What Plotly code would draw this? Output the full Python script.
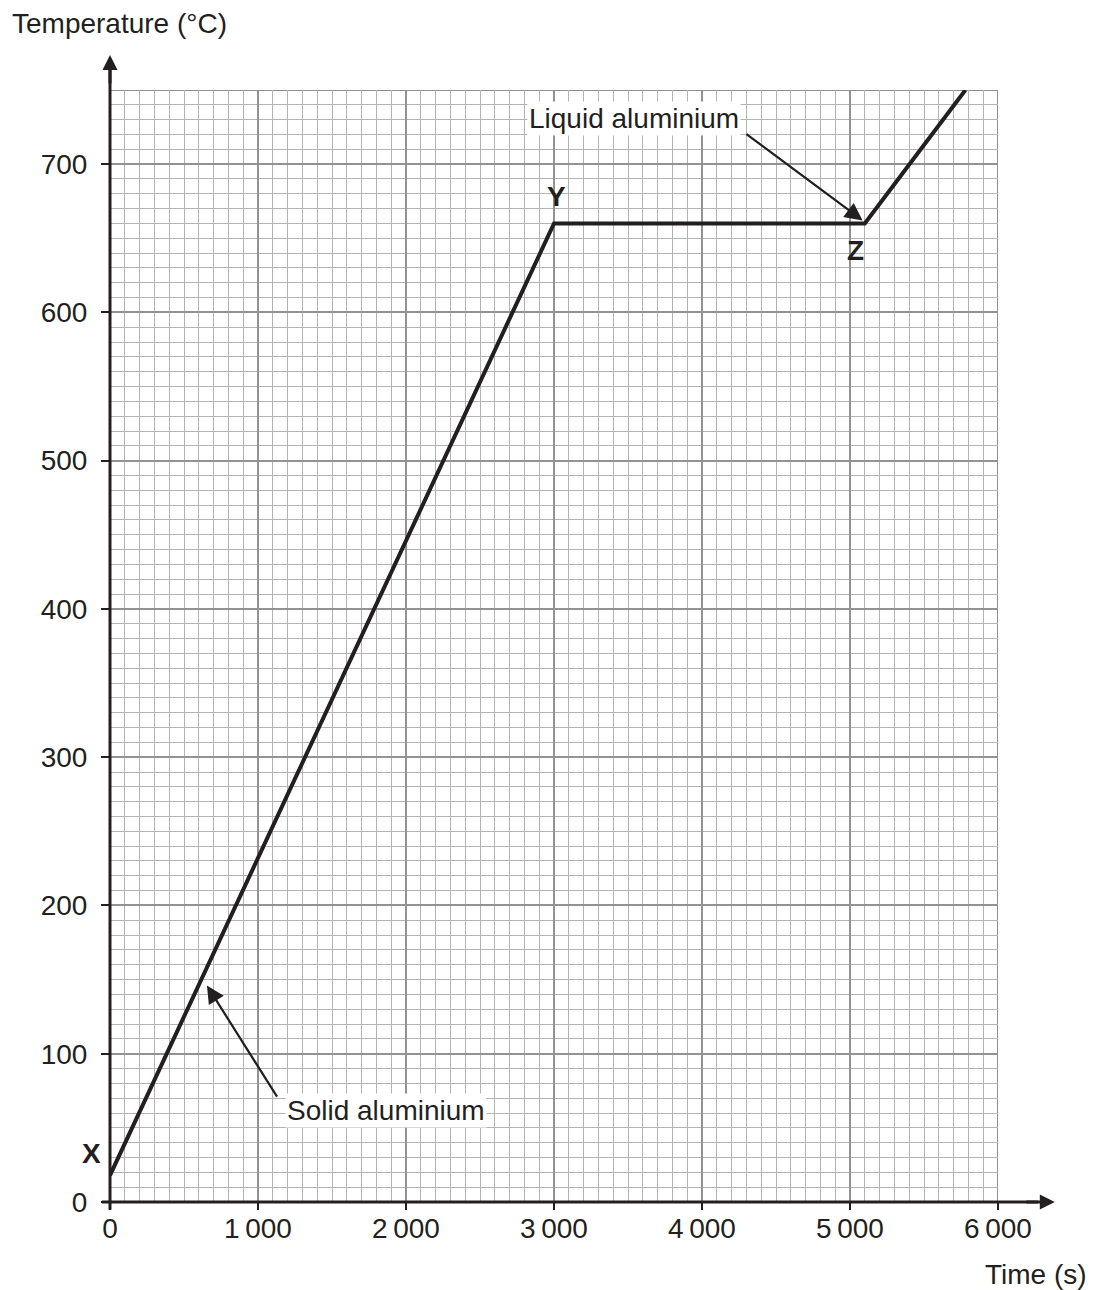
import plotly.graph_objects as go

# Data
time_s = [0, 3000, 5100, 5780]
temp_c = [18, 660, 660, 750]

x_tickvals = [0, 1000, 2000, 3000, 4000, 5000, 6000]
x_ticktext = ["0", "1\u2009000", "2\u2009000", "3\u2009000", "4\u2009000", "5\u2009000", "6\u2009000"]
y_tickvals = [0, 100, 200, 300, 400, 500, 600, 700]
y_ticktext = ["0", "100", "200", "300", "400", "500", "600", "700"]

INK = "#231f20"
FONT = "Liberation Sans, Arial, sans-serif"
FS = 28

fig = go.Figure()
fig.add_trace(go.Scatter(x=time_s, y=temp_c, mode="lines",
                         line=dict(color=INK, width=4), hoverinfo="skip",
                         showlegend=False, cliponaxis=False))

fig.update_layout(
    width=1096, height=1290,
    margin=dict(l=102, r=106, t=82, b=96),
    paper_bgcolor="white", plot_bgcolor="white",
    font=dict(family=FONT, size=FS, color=INK),
    showlegend=False,
    xaxis=dict(range=[0, 6000], tickvals=x_tickvals, ticktext=x_ticktext,
               showgrid=True, gridcolor="#929292", gridwidth=2,
               minor=dict(dtick=100, tick0=0, showgrid=True, gridcolor="#b4b4b4", gridwidth=1, ticks=""),
               zeroline=False, showline=False,
               ticks="outside", ticklen=7, tickwidth=2, tickcolor=INK,
               ticklabelstandoff=-6,
               tickfont=dict(family=FONT, size=FS, color=INK)),
    yaxis=dict(range=[0, 750], tickvals=y_tickvals, ticktext=y_ticktext,
               showgrid=True, gridcolor="#929292", gridwidth=2,
               minor=dict(dtick=10, tick0=0, showgrid=True, gridcolor="#b4b4b4", gridwidth=1, ticks=""),
               zeroline=False, showline=False,
               ticks="outside", ticklen=8, tickwidth=2, tickcolor=INK,
               ticklabelstandoff=8,
               tickfont=dict(family=FONT, size=FS, color=INK)),
)

# Border grid lines at the top and right edges
fig.add_shape(type="line", xref="x", yref="y", x0=0, x1=6000, y0=750, y1=750,
              line=dict(color="#929292", width=2), layer="below")
fig.add_shape(type="line", xref="x", yref="y", x0=6000, x1=6000, y0=0, y1=750,
              line=dict(color="#929292", width=2), layer="below")

# Axis lines with arrows
fig.add_shape(type="line", xref="paper", yref="paper", x0=-0.009, x1=1.045, y0=0, y1=0,
              line=dict(color=INK, width=3))
fig.add_shape(type="line", xref="paper", yref="paper", x0=0, x1=0, y0=-0.007, y1=1.02,
              line=dict(color=INK, width=3))
fig.add_annotation(xref="paper", yref="paper", x=1.064, y=0, ax=-30, ay=0,
                   axref="pixel", ayref="pixel", text="", showarrow=True,
                   arrowhead=2, arrowsize=1, arrowwidth=3, arrowcolor=INK)
fig.add_annotation(xref="paper", yref="paper", x=0, y=1.0315, ax=0, ay=30,
                   axref="pixel", ayref="pixel", text="", showarrow=True,
                   arrowhead=2, arrowsize=1, arrowwidth=3, arrowcolor=INK)

# Axis titles
fig.add_annotation(xref="paper", yref="paper", x=-0.1126, y=1.0595, xanchor="left", yanchor="middle",
                   text="Temperature (°C)", showarrow=False, font=dict(size=FS, color=INK))
fig.add_annotation(xref="paper", yref="paper", x=1.1025, y=-0.0656, xanchor="right", yanchor="middle",
                   text="Time (s)", showarrow=False, font=dict(size=FS, color=INK))

# Point labels
fig.add_annotation(xref="paper", yref="paper", x=-0.0203, y=0.044, xanchor="center", yanchor="middle",
                   text="<b>X</b>", showarrow=False, font=dict(size=FS, color=INK))
for txt, xv, yv in [("Y", 3020, 678), ("Z", 5034, 642)]:
    fig.add_annotation(x=xv, y=yv, text="<b>%s</b>" % txt, showarrow=False,
                       font=dict(size=FS, color=INK))

# Callout labels
fig.add_annotation(x=3541, y=731, text="Liquid aluminium", showarrow=False,
                   bgcolor="white", font=dict(size=FS, color=INK), borderpad=1)
fig.add_annotation(x=1865, y=62, text="Solid aluminium", showarrow=False,
                   bgcolor="white", font=dict(size=FS, color=INK), borderpad=1)

# Callout arrows
fig.add_annotation(x=5085, y=662, ax=4290, ay=721, axref="x", ayref="y",
                   text="", showarrow=True, arrowhead=2, arrowsize=1.6,
                   arrowwidth=2.2, arrowcolor=INK)
fig.add_annotation(x=655, y=146, ax=1135, ay=70, axref="x", ayref="y",
                   text="", showarrow=True, arrowhead=2, arrowsize=1.6,
                   arrowwidth=2.2, arrowcolor=INK)

fig.write_html("out.html")
